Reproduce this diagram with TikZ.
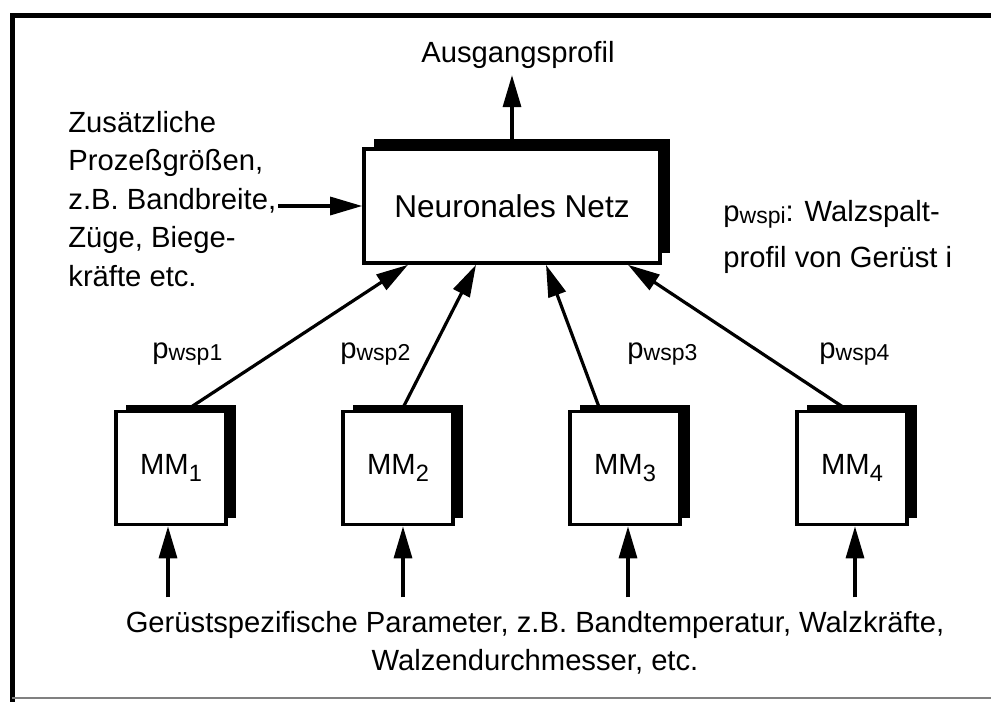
\documentclass[tikz,border=0pt]{standalone}
\usepackage{fontspec}
\setmainfont{Liberation Sans}
\usepackage{tikz}
\usetikzlibrary{arrows.meta,shadows,calc}

\newcommand{\wsp}[1]{p\raisebox{-1.2pt}{\fontsize{11.5}{12}\selectfont wsp#1}}
\newcommand{\mmsub}[1]{MM\raisebox{-3.5pt}{\fontsize{11.8}{12}\selectfont #1}}

\begin{document}
\begin{tikzpicture}[x=0.5pt,y=-0.5pt,font=\fontsize{14.6}{19.2}\selectfont,
  box/.style={draw,fill=white,line width=1.8pt,drop shadow={shadow xshift=5pt,shadow yshift=#1,fill=black,opacity=1}},
  box/.default=3.5pt,
  arr/.style={-{Triangle[length=16pt,width=9pt]},line width=1.6pt},
  txt/.style={inner sep=0pt}]
\useasboundingbox (0,0) rectangle (991,702);
\draw [line width=2.5pt] (991,15) -- (12,15) -- (12,702);
\draw [gray,line width=1pt] (12,698) -- (991,698);

\node[box=5pt,minimum width=148pt,minimum height=57pt,font=\fontsize{15.8}{19}\selectfont] (nn) at (512,206) {Neuronales Netz};
\node[anchor=base] (aus) at (518,62) {Ausgangsprofil};
\draw[arr] (nn.north) -- (nn.north |- aus.south);

\node[txt,anchor=north west,align=left] (zus) at (68,111) {Zusätzliche\\Prozeßgrößen,\\z.B. Bandbreite,\\Züge, Biege-\\kräfte etc.};
\coordinate (zin) at (278,206);
\draw[arr] (zin) -- (nn.west);

\node[txt,anchor=north west,align=left,font=\fontsize{14.6}{23}\selectfont] (wspi) at (723,200) {\wsp{i}: Walzspalt-\\profil von Gerüst i};

\node[box,minimum width=55pt,minimum height=56.5pt] (mm1) at (171,468) {\mmsub{1}};
\node[box,minimum width=55pt,minimum height=56.5pt] (mm2) at (398,468) {\mmsub{2}};
\node[box,minimum width=55pt,minimum height=56.5pt] (mm3) at (625,468) {\mmsub{3}};
\node[box,minimum width=55pt,minimum height=56.5pt] (mm4) at (852,468) {\mmsub{4}};

\draw[arr] ($(mm1.north)+(16,0)$) -- ($(nn.south)+(-104,0)$);
\draw[arr] ($(mm2.north)+(4,0)$) -- ($(nn.south)+(-36,0)$);
\draw[arr] ($(mm3.north)+(-25,0)$) -- ($(nn.south)+(34,0)$);
\draw[arr] ($(mm4.north)+(-5,0)$) -- ($(nn.south)+(116,0)$);

\node[txt,anchor=base west] (p1) at (152,358) {\wsp{1}};
\node[txt,anchor=base west] (p2) at (340,358) {\wsp{2}};
\node[txt,anchor=base west] (p3) at (627,358) {\wsp{3}};
\node[txt,anchor=base west] (p4) at (819,358) {\wsp{4}};

\draw[arr] ($(mm1.south)+(-3,71)$) -- ($(mm1.south)+(-3,0)$);
\draw[arr] ($(mm2.south)+(5,71)$) -- ($(mm2.south)+(5,0)$);
\draw[arr] ($(mm3.south)+(3,71)$) -- ($(mm3.south)+(3,0)$);
\draw[arr] ($(mm4.south)+(3,71)$) -- ($(mm4.south)+(3,0)$);

\node[txt,anchor=north,align=center] (par) at (535,611) {Gerüstspezifische Parameter, z.B. Bandtemperatur, Walzkräfte,\\Walzendurchmesser, etc.};
\end{tikzpicture}
\end{document}
